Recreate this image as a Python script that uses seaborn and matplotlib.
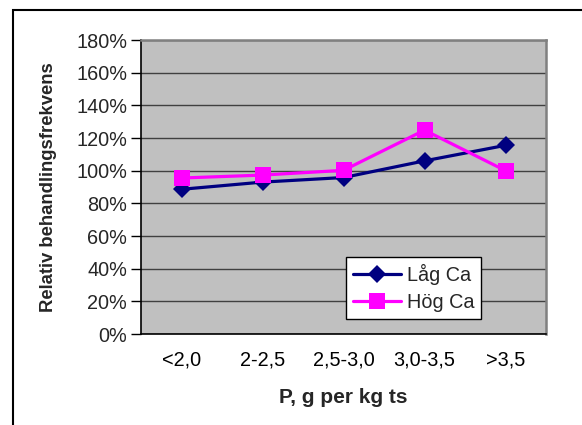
import matplotlib
matplotlib.use("Agg")
import matplotlib.pyplot as plt
from matplotlib.patches import Rectangle
from matplotlib.ticker import FixedLocator, FuncFormatter
import pandas as pd
import seaborn as sns

# P-klasser (g per kg ts) och relativ behandlingsfrekvens i procent
categories = ["<2,0", "2-2,5", "2,5-3,0", "3,0-3,5", ">3,5"]
lag_ca = [88.6, 93.0, 95.8, 106.0, 115.5]
hog_ca = [95.5, 97.3, 100.2, 124.8, 100.0]
series_names = ["Låg Ca", "Hög Ca"]
y_ticks = [0, 20, 40, 60, 80, 100, 120, 140, 160, 180]

df = pd.DataFrame({
    "P": categories * 2,
    "frekvens": lag_ca + hog_ca,
    "serie": [series_names[0]] * len(categories) + [series_names[1]] * len(categories),
})

sns.set_theme(style="white")
plt.rcParams["font.family"] = ["Liberation Sans", "DejaVu Sans"]

W, H = 582, 425
fig = plt.figure(figsize=(W / 100, H / 100), dpi=100)
ax = fig.add_axes([141 / W, 1 - 334 / H, 405 / W, 294 / H])
ax.set_facecolor("#C0C0C0")

palette = {"Låg Ca": "#000080", "Hög Ca": "#FF00FF"}
sns.lineplot(
    data=df, x="P", y="frekvens", hue="serie", style="serie",
    markers={"Låg Ca": "D", "Hög Ca": "s"}, dashes=False,
    palette=palette, sort=False, linewidth=2.3, markersize=10,
    markeredgewidth=0, ax=ax, zorder=3,
)
for line in ax.get_lines():
    if line.get_marker() == "s":
        line.set_markersize(11.5)
    elif line.get_marker() == "D":
        line.set_markersize(9.2)

ax.set_xlim(-0.5, len(categories) - 0.5)
ax.set_ylim(0, 180)
ax.yaxis.set_major_locator(FixedLocator(y_ticks))
ax.yaxis.set_major_formatter(FuncFormatter(lambda v, _: f"{v:.0f}%"))
ax.grid(axis="y", color="#404040", linewidth=1.0, zorder=1)
ax.grid(axis="x", visible=False)
ax.set_axisbelow(True)

# category ticks between groups on the x axis
ax.set_xticks(range(len(categories)))
ax.set_xticklabels(categories)
ax.set_xticks([i + 0.5 for i in range(-1, len(categories))], minor=True)
ax.tick_params(axis="x", which="major", length=0, pad=12, labelsize=14.3, colors="black")
ax.tick_params(axis="x", which="minor", length=6, width=1, color="black", direction="out")
ax.tick_params(axis="y", which="major", length=7, width=1, color="black", direction="out",
               left=True, labelsize=14.3, pad=3)

for side in ("left", "bottom"):
    ax.spines[side].set_color("black")
    ax.spines[side].set_linewidth(1.2)
for side in ("right", "top"):
    ax.spines[side].set_color("#808080")
    ax.spines[side].set_linewidth(1.8)

ax.set_xlabel("P, g per kg ts", fontsize=15, fontweight="bold", labelpad=13)
ax.set_ylabel("Relativ behandlingsfrekvens", fontsize=13.3, fontweight="bold", labelpad=14)

leg = ax.legend(
    loc="upper left", bbox_to_anchor=(0.506, 0.262), fontsize=14.3,
    frameon=True, fancybox=False, framealpha=1, edgecolor="black",
    handlelength=2.4, handletextpad=0.3, borderpad=0.35, labelspacing=0.4,
    borderaxespad=0,
)
leg.get_frame().set_linewidth(1.0)
leg.set_zorder(5)

# chart frame around the whole figure
fig.add_artist(Rectangle((13 / W, -0.1), 2.0, 1 - 10 / H + 0.1, transform=fig.transFigure,
                         fill=False, edgecolor="black", linewidth=1.5, clip_on=False))

fig.savefig("out.png", dpi=100, facecolor="white")
